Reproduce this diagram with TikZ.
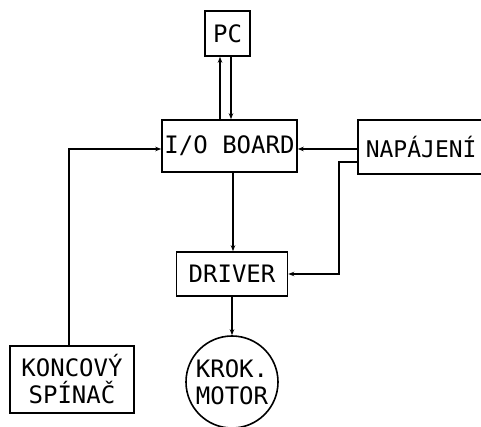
\documentclass[tikz,border=0pt]{standalone}
\usepackage{fontspec}
\setmonofont{DejaVu Sans Mono}
\usepackage{tikz}
\usetikzlibrary{positioning, arrows.meta, calc}
\tikzset{
  block/.style={
    rectangle, draw=black, line width=1.6pt, inner sep=0pt,
    font=\fontsize{24}{27}\selectfont\ttfamily, align=center
  },
  motor/.style={block, circle, minimum size=92pt},
  signal/.style={draw, line width=1.6pt, -{Stealth[length=6pt,width=4.5pt]}},
}
\begin{document}
\begin{tikzpicture}[x=1pt, y=1pt]
  \clip (0,0) rectangle (481,427);
  \node[block, minimum width=45pt, minimum height=45pt] (pc) at (227.5,393.5) {PC};
  \node[block, minimum width=135pt, minimum height=52pt] (io) at (229.5,281) {I/O BOARD};
  \node[block, minimum height=54pt, text width=120pt, inner xsep=8pt, align=left,
        font=\fontsize{23}{26}\selectfont\ttfamily, anchor=west] (power) at (357,280) {NAPÁJENÍ};
  \node[block, minimum width=111pt, minimum height=44pt] (driver) at (232,153) {DRIVER};
  \node[motor] (motor) at (232,45) {KROK.\\MOTOR};
  \node[block, minimum width=124pt, minimum height=67pt] (switch) at (72,47.5) {KONCOVÝ\\SPÍNAČ};
  % PC <-> I/O board
  \draw[signal] ([xshift=-7.5pt]pc.south |- io.north) -- ([xshift=-7.5pt]pc.south);
  \draw[signal] ([xshift=3.5pt]pc.south) -- ([xshift=3.5pt]pc.south |- io.north);
  % supply
  \draw[signal] ([yshift=-2pt]power.west) -- ([yshift=-2pt]power.west -| io.east);
  \draw[signal] ([yshift=-15pt]power.west) -- ++(-18pt,0) |- (driver.east);
  % board -> driver -> motor
  \draw[signal] ([xshift=1pt]driver.north |- io.south) -- ([xshift=1pt]driver.north);
  \draw[signal] (driver.south) -- (motor.north);
  % end switch
  \draw[signal] ([xshift=-3pt]switch.north) |- ([yshift=-3pt]io.west);
\end{tikzpicture}
\end{document}
